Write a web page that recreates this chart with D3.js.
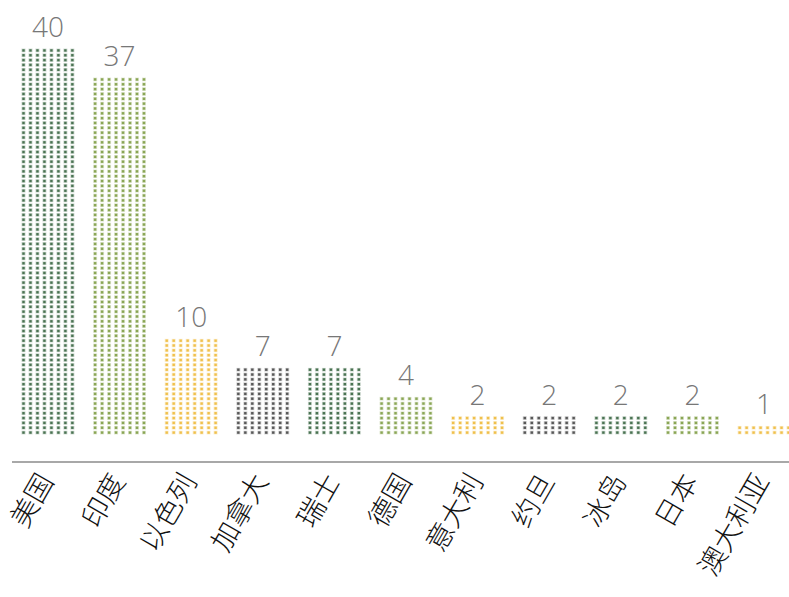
<!DOCTYPE html>
<html>
<head>
<meta charset="utf-8">
<script src="https://cdn.jsdelivr.net/npm/d3@7"></script>
<style>
  body { margin: 0; background: #fff; }
  svg { display: block; }
</style>
</head>
<body>
<svg></svg>
<script>
const [WIDTH, HEIGHT] = [789, 597]

const countries = ["美国", "印度", "以色列", "加拿大", "瑞士", "德国", "意大利", "约旦", "冰岛", "日本", "澳大利亚"]
const values = [40, 37, 10, 7, 7, 4, 2, 2, 2, 2, 1]
const colorGroups = ["green", "olive", "yellow", "grey", "green", "olive", "yellow", "grey", "green", "olive", "yellow"]

const palette = {
    green: "#4a7352",
    olive: "#8aa655",
    yellow: "#f0c04c",
    grey: "#585858"
}

const state = {}

function setupSvg() {
    state['svg'] = d3.select("svg")
        .attr("width", WIDTH)
        .attr("height", HEIGHT)
        .attr("viewBox", "0 0 " + WIDTH + " " + HEIGHT)
}

function main() {
    setupSvg()
    const svg = state['svg']

    const x = d3.scaleBand()
        .domain(countries)
        .range([20, 792])
        .paddingInner(0.22)
        .paddingOuter(0)

    const y = d3.scaleLinear()
        .domain([0, 40])
        .range([435, 48])

    const cols = 8
    const colStep = x.bandwidth() / cols
    const rowsPerUnit = 2

    // dots for every bar
    const bars = svg.append("g").attr("id", "bars")
    countries.forEach((c, i) => {
        const dots = []
        for (let r = 0; r < values[i] * rowsPerUnit; r++) {
            for (let k = 0; k < cols; k++) dots.push({ r, k })
        }
        const g = bars.append("g")
        const col = palette[colorGroups[i]]
        // soft halo
        g.selectAll("rect.halo")
            .data(dots)
            .enter()
            .append("rect")
            .attr("class", "halo")
            .attr("x", d => x(c) + d.k * colStep + colStep / 2 - 2)
            .attr("y", d => y((d.r + 0.5) / rowsPerUnit) - 1.8)
            .attr("width", 4)
            .attr("height", 3.6)
            .attr("fill", col)
            .attr("opacity", 0.3)
        g.selectAll("rect.dot")
            .data(dots)
            .enter()
            .append("rect")
            .attr("class", "dot")
            .attr("x", d => x(c) + d.k * colStep + colStep / 2 - 1.2)
            .attr("y", d => y((d.r + 0.5) / rowsPerUnit) - 1.2)
            .attr("width", 2.4)
            .attr("height", 2.4)
            .attr("fill", col)
    })

    // value labels
    svg.append("g")
        .selectAll("text")
        .data(countries)
        .enter()
        .append("text")
        .attr("x", c => x(c) + x.bandwidth() / 2)
        .attr("y", (c, i) => y(values[i]) - 11)
        .attr("text-anchor", "middle")
        .attr("font-family", "'Open Sans', sans-serif")
        .attr("font-weight", 300)
        .attr("font-size", 28)
        .attr("fill", "#777")
        .text((c, i) => values[i])

    // baseline
    svg.append("line")
        .attr("x1", 12).attr("x2", WIDTH)
        .attr("y1", 462).attr("y2", 462)
        .attr("stroke", "#a8a8a8")
        .attr("stroke-width", 2)

    // category labels
    svg.append("g")
        .selectAll("text")
        .data(countries)
        .enter()
        .append("text")
        .attr("transform", c => "translate(" + (x(c) + x.bandwidth() / 2 - 2) + ",476) rotate(-60)")
        .attr("text-anchor", "end")
        .attr("dy", "0.35em")
        .attr("font-family", "'Noto Sans CJK SC', sans-serif")
        .attr("font-weight", 300)
        .attr("font-size", 28)
        .attr("fill", "#111")
        .text(c => c)
}

main()
</script>
</body>
</html>
